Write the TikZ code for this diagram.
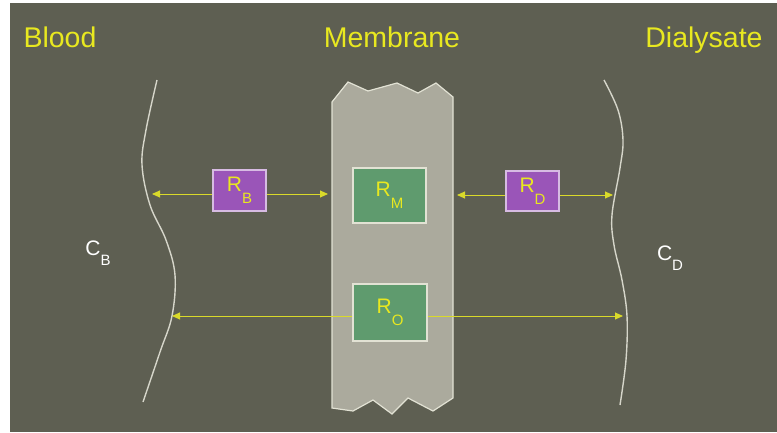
\documentclass[tikz,border=0pt]{standalone}
\usepackage{fontspec}
\setmainfont{Liberation Sans}
\usetikzlibrary{arrows.meta}
\definecolor{bg}{HTML}{5E5F52}
\definecolor{mem}{HTML}{ABAA9D}
\definecolor{memedge}{HTML}{E2E2D4}
\definecolor{grn}{HTML}{5F9B6E}
\definecolor{prp}{HTML}{9A55B8}
\definecolor{ylw}{HTML}{E8E820}
\definecolor{arr}{HTML}{DADA2A}
\definecolor{crv}{HTML}{D6D6CA}
\newcommand{\Rlab}[1]{\fontsize{21}{21}\selectfont R\raisebox{-0.55em}{\fontsize{15}{15}\selectfont #1}}
\newcommand{\Clab}[1]{\fontsize{21}{21}\selectfont C\raisebox{-0.5em}{\fontsize{15}{15}\selectfont #1}}
\tikzset{
  title/.style={text=ylw, font=\fontsize{28.5}{30}\selectfont, inner sep=0pt, anchor=base},
  rbox/.style={line width=1.1pt, text=ylw, inner sep=0pt, minimum width=#1},
  purplebox/.style={rbox=#1, fill=prp, draw=prp!40!white},
  greenbox/.style={rbox=#1, fill=grn, draw=memedge},
  conn/.style={draw=arr, line width=0.9pt, -{Triangle[length=8pt,width=7pt]}},
  conc/.style={text=white, inner sep=0pt},
  curve/.style={draw=crv, line width=1.4pt}
}
\begin{document}
\begin{tikzpicture}[x=1pt,y=-1pt]
\useasboundingbox (0,0) rectangle (777,432);
\fill[white] (0,0) rectangle (777,432);
\fill[bg] (10,3) rectangle (777,432);
% membrane
\filldraw[fill=mem, draw=memedge, line width=1.2pt]
  (332,102) -- (348,82) -- (368,91) -- (397,83) -- (418,93) -- (436,83) -- (453,97)
  -- (453,398) -- (433,411) -- (408,398) -- (392,414) -- (373,400) -- (353,411) -- (332,408) -- cycle;
% titles
\node[title] (blood) at (60,47) {Blood};
\node[title] (membrane) at (392,47) {Membrane};
\node[title] (dialysate) at (704,47) {Dialysate};
% curves
\draw[curve] plot[smooth, tension=0.6] coordinates {(157,80) (146,130) (142,165) (150,205) (166,240) (175,275) (172,316) (160,352) (143,402)};
\draw[curve] plot[smooth, tension=0.6] coordinates {(604,80) (618,110) (623,140) (620,168) (612,215) (614,245) (622,280) (627,316) (626,360) (620,405)};
% concentration labels
\node[conc] (cb) at (98,253) {\Clab{B}};
\node[conc] (cd) at (670,258) {\Clab{D}};
% boxes
\node[purplebox=53pt, minimum height=41pt] (rb) at (239.5,190.5) {\Rlab{B}};
\node[greenbox=73pt, minimum height=55pt] (rm) at (389.5,195.5) {\Rlab{M}};
\node[purplebox=53pt, minimum height=40pt] (rd) at (532.5,191) {\Rlab{D}};
\node[greenbox=74pt, minimum height=57pt] (ro) at (390,312.5) {\Rlab{O}};
% arrow tips
\coordinate (bl) at (152,194);
\coordinate (br) at (328,194);
\coordinate (dl) at (457,195);
\coordinate (dr) at (613,195);
\coordinate (ol) at (172,316);
\coordinate (or) at (623,316);
\draw[conn] (rb.west |- bl) -- (bl);
\draw[conn] (rb.east |- br) -- (br);
\draw[conn] (rd.west |- dl) -- (dl);
\draw[conn] (rd.east |- dr) -- (dr);
\draw[conn] (ro.west |- ol) -- (ol);
\draw[conn] (ro.east |- or) -- (or);
\end{tikzpicture}
\end{document}
